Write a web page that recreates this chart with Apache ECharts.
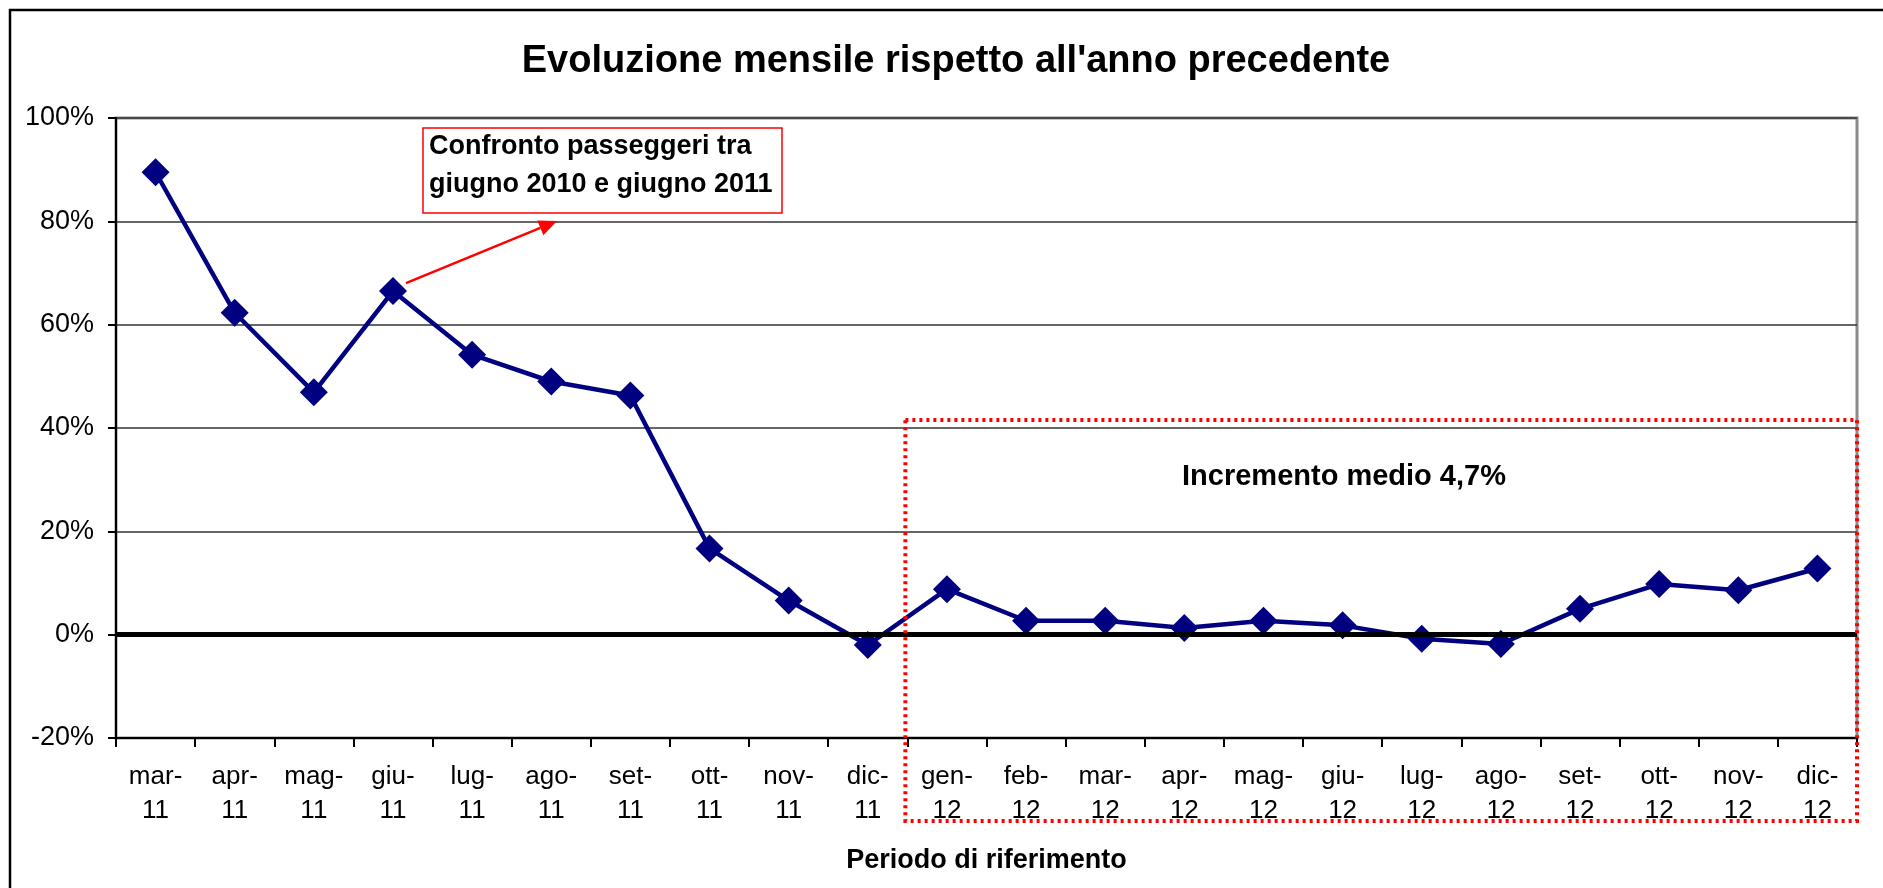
<!DOCTYPE html>
<html>
<head>
<meta charset="utf-8">
<script src="https://cdn.jsdelivr.net/npm/echarts@6/dist/echarts.min.js"></script>
<style>
html, body { margin: 0; padding: 0; background: #fff; }
#chart { width: 1883px; height: 888px; }
</style>
</head>
<body>
<div id="chart"></div>
<script>
// mesi (asse x)
var mesi = ['mar-\n11', 'apr-\n11', 'mag-\n11', 'giu-\n11', 'lug-\n11', 'ago-\n11', 'set-\n11', 'ott-\n11', 'nov-\n11', 'dic-\n11',
            'gen-\n12', 'feb-\n12', 'mar-\n12', 'apr-\n12', 'mag-\n12', 'giu-\n12', 'lug-\n12', 'ago-\n12', 'set-\n12', 'ott-\n12', 'nov-\n12', 'dic-\n12'];
// variazione % rispetto allo stesso mese dell'anno precedente
var variazione = [89.5, 62.3, 46.9, 66.5, 54.2, 49.0, 46.3, 16.7, 6.6, -2.0,
                  8.8, 2.7, 2.7, 1.3, 2.7, 1.8, -0.8, -1.8, 5.0, 9.8, 8.6, 12.8];
// scala asse y
var yMin = -20, yMax = 100, yStep = 20;

var titolo = "Evoluzione mensile rispetto all'anno precedente";
var nomeAsseX = 'Periodo di riferimento';
var notaGiugno = 'Confronto passeggeri tra\ngiugno 2010 e giugno 2011';
var notaMedia = 'Incremento medio 4,7%';

var FONT = "'Liberation Sans', Arial, sans-serif";

var chart = echarts.init(document.getElementById('chart'));

var option = {
    backgroundColor: '#fff',
    animation: false,
    title: {
        text: titolo,
        left: 956,
        textAlign: 'center',
        top: 43,
        padding: 0,
        textStyle: { fontFamily: FONT, fontSize: 38, fontWeight: 'bold', color: '#000' }
    },
    grid: {
        left: 116, right: 26, top: 118, bottom: 150,
        show: true,
        borderColor: '#8c8c8c',
        borderWidth: 3,
        containLabel: false
    },
    xAxis: {
        type: 'category',
        data: mesi,
        boundaryGap: true,
        name: nomeAsseX,
        nameLocation: 'middle',
        nameGap: 109,
        nameTextStyle: { fontFamily: FONT, fontSize: 27, fontWeight: 'bold', color: '#000' },
        axisLine: { onZero: false, lineStyle: { color: '#000', width: 2 } },
        axisTick: { show: true, length: 9, lineStyle: { color: '#000', width: 2 } },
        axisLabel: { fontFamily: FONT, fontSize: 26, lineHeight: 34, color: '#000', margin: 22, interval: 0 },
        splitLine: { show: false }
    },
    yAxis: {
        type: 'value',
        min: yMin,
        max: yMax,
        interval: yStep,
        axisLine: { show: true, lineStyle: { color: '#000', width: 2 } },
        axisTick: { show: true, length: 8, lineStyle: { color: '#000', width: 2 } },
        axisLabel: { fontFamily: FONT, fontSize: 27, color: '#000', margin: 22, formatter: '{value}%' },
        splitLine: { show: true, lineStyle: { color: '#333', width: 1.5 } }
    },
    series: [{
        name: 'variazione',
        type: 'line',
        data: variazione,
        symbol: 'diamond',
        symbolSize: 28,
        lineStyle: { color: '#000080', width: 4.5 },
        itemStyle: { color: '#000080' },
        markLine: {
            silent: true,
            symbol: 'none',
            label: { show: false },
            lineStyle: { color: '#000', width: 5, type: 'solid' },
            data: [{ yAxis: 0 }]
        },
        z: 3
    }]
};
chart.setOption(option);

// posizioni delle note ricavate dalle scale del grafico
var cDic = chart.convertToPixel({ xAxisIndex: 0 }, mesi[9]);
var cGen = chart.convertToPixel({ xAxisIndex: 0 }, mesi[10]);
var xConfine = (cDic + cGen) / 2;
var xDestra = chart.convertToPixel({ xAxisIndex: 0 }, mesi[21]) + (cGen - cDic) / 2;
var pGiu = chart.convertToPixel({ gridIndex: 0 }, [3, variazione[3]]);

var start = [pGiu[0] + 13, pGiu[1] - 8];
var tip = [557, 221];
var dx = tip[0] - start[0], dy = tip[1] - start[1];
var len = Math.sqrt(dx * dx + dy * dy);
var ux = dx / len, uy = dy / len;
var hl = 18, hw = 8;
var bx = tip[0] - ux * hl, by = tip[1] - uy * hl;

chart.setOption({
    graphic: [
        { // cornice esterna
            type: 'rect', silent: true, z: 0,
            shape: { x: 10, y: 10, width: 1900, height: 1000 },
            style: { fill: 'none', stroke: '#000', lineWidth: 2.5 }
        },
        { // freccia
            type: 'line', silent: true, z: 10,
            shape: { x1: start[0], y1: start[1], x2: bx, y2: by },
            style: { stroke: '#ff0000', lineWidth: 2.5 }
        },
        {
            type: 'polygon', silent: true, z: 10,
            shape: { points: [tip, [bx - uy * hw, by + ux * hw], [bx + uy * hw, by - ux * hw]] },
            style: { fill: '#ff0000' }
        },
        { // riquadro nota giugno
            type: 'rect', silent: true, z: 10,
            shape: { x: 423, y: 128, width: 359, height: 85 },
            style: { fill: '#fff', stroke: '#ff0000', lineWidth: 1.5 }
        },
        {
            type: 'text', silent: true, z: 11,
            x: 429, y: 128,
            style: {
                text: notaGiugno, fill: '#000', font: 'bold 27px ' + FONT,
                lineHeight: 38, align: 'left', verticalAlign: 'top'
            }
        },
        { // riquadro tratteggiato 2012
            type: 'rect', silent: true, z: 12,
            shape: { x: xConfine - 2, y: 420, width: xDestra - xConfine + 2, height: 401 },
            style: { fill: 'none', stroke: '#ff0000', lineWidth: 4, lineDash: [3, 4] }
        },
        {
            type: 'text', silent: true, z: 11,
            x: 1344, y: 477,
            style: {
                text: notaMedia, fill: '#000', font: 'bold 29px ' + FONT,
                align: 'center', verticalAlign: 'middle'
            }
        }
    ]
});
</script>
</body>
</html>
